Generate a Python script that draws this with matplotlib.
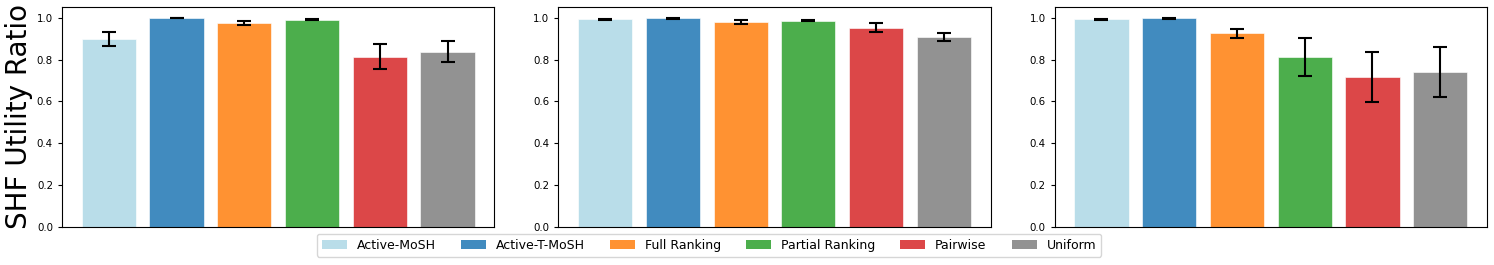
import numpy as np
import matplotlib.pyplot as plt
from matplotlib.patches import Patch

methods = ['Active-MoSH', 'Active-T-MoSH', 'Full Ranking', 'Partial Ranking', 'Pairwise', 'Uniform']
colors = ['lightblue', 'tab:blue', 'tab:orange', 'tab:green', 'tab:red', 'tab:gray']

# mean utility ratio and error per panel
means_1 = [0.899, 1.000, 0.975, 0.990, 0.813, 0.837]
errs_1 = [0.032, 0.001, 0.008, 0.003, 0.060, 0.051]
means_2 = [0.993, 0.998, 0.979, 0.986, 0.953, 0.908]
errs_2 = [0.003, 0.002, 0.008, 0.003, 0.021, 0.019]
means_3 = [0.992, 0.997, 0.926, 0.813, 0.717, 0.740]
errs_3 = [0.003, 0.002, 0.022, 0.091, 0.120, 0.119]

panels = [(means_1, errs_1), (means_2, errs_2), (means_3, errs_3)]

fig, axes = plt.subplots(1, 3, figsize=(14.94, 2.65), dpi=100)
plt.subplots_adjust(left=0.0415, right=0.9953, top=0.9725, bottom=0.1445, wspace=0.148)

x = np.arange(len(methods))
for ax, (m, e) in zip(axes, panels):
    ax.bar(x, m, yerr=e, color=colors, alpha=0.85, edgecolor='white', linewidth=0.5,
           capsize=5, error_kw=dict(ecolor='black', elinewidth=1.5, capthick=1.5))
    ax.set_ylim(0, 1.05)
    ax.set_xticks([])
    ax.tick_params(axis='y', labelsize=7.4, length=3)

axes[0].set_ylabel('SHF Utility Ratio', fontsize=20, labelpad=3)

handles = [Patch(facecolor=c, alpha=0.85, label=l) for c, l in zip(colors, methods)]
fig.legend(handles=handles, loc='lower center', bbox_to_anchor=(0.4746, 0.007), ncol=6, fontsize=9)

plt.savefig('out.png', dpi=100)
